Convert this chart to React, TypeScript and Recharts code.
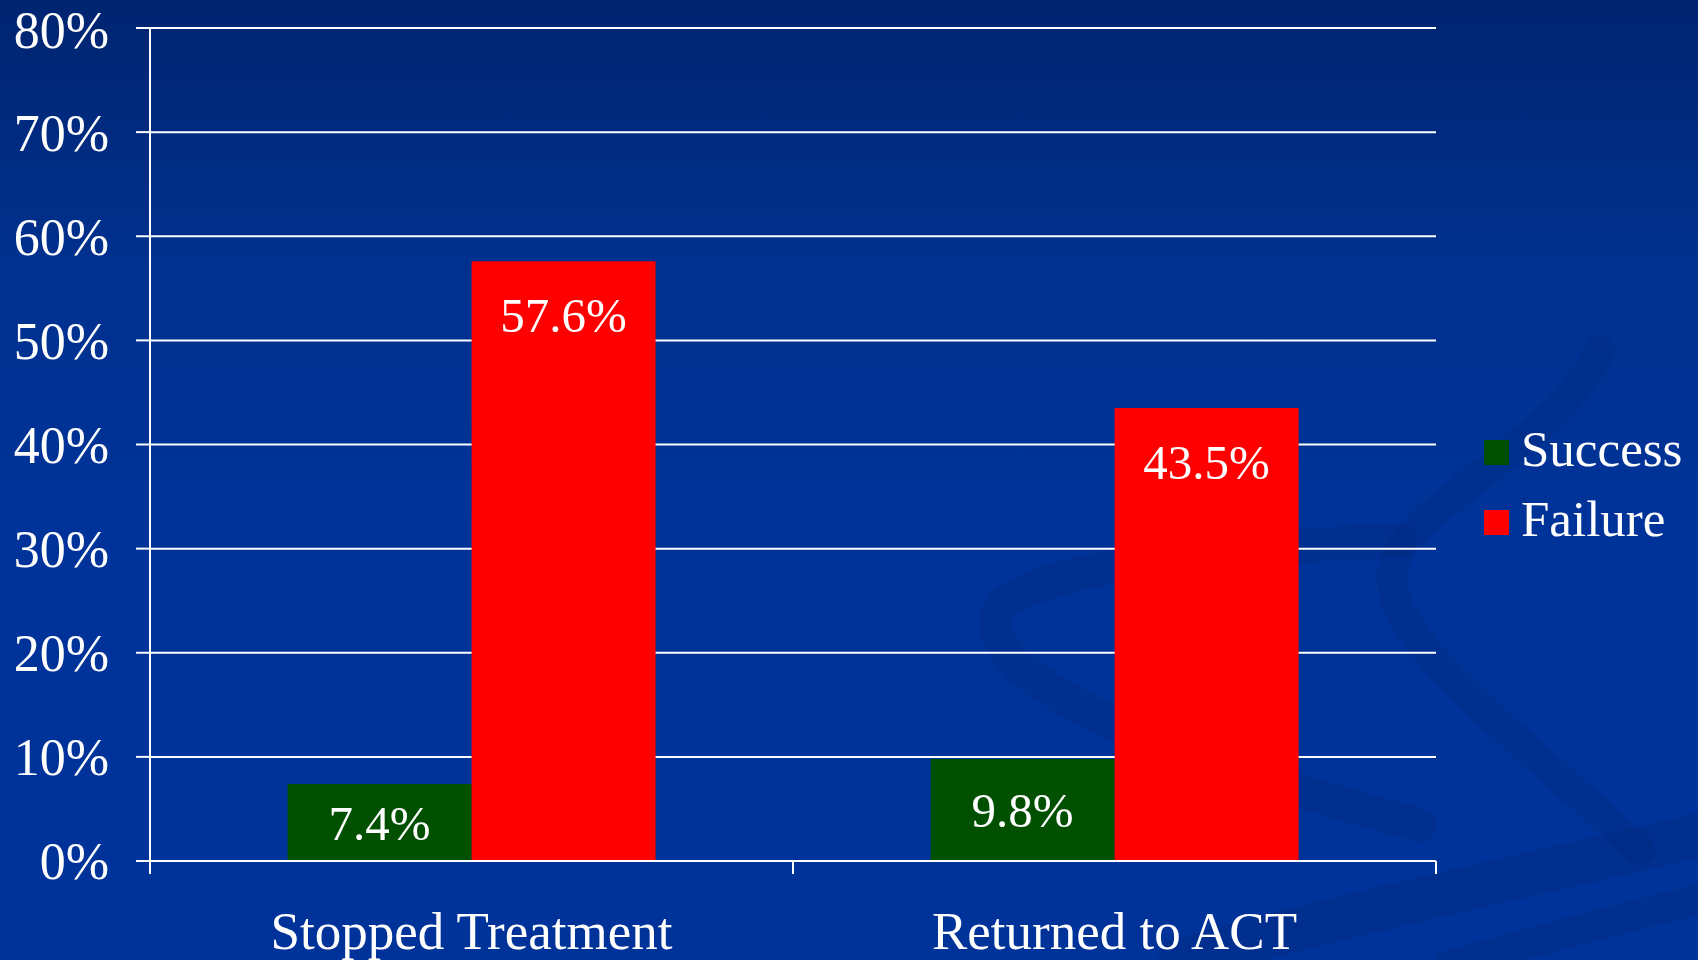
import React from "react";
import { BarChart, Bar, XAxis, YAxis, CartesianGrid, Legend, LabelList } from "recharts";

const categories = ["Stopped Treatment", "Returned to ACT"];
const successValues = [7.4, 9.8];
const failureValues = [57.6, 43.5];
const yTicks = [0, 10, 20, 30, 40, 50, 60, 70, 80];

const data = categories.map((name, i) => ({
    name,
    success: successValues[i],
    failure: failureValues[i],
}));

const FONT = '"Liberation Serif", "Times New Roman", serif';

const legendItems = [
    { label: "Success", color: "#005000" },
    { label: "Failure", color: "#ff0000" },
];

function ChartLegend() {
    return (
        <div style={{ fontFamily: FONT, color: "#fff", fontSize: 51 }}>
            {legendItems.map((item) => (
                <div key={item.label} style={{ display: "flex", alignItems: "center", height: 70 }}>
                    <span
                        style={{
                            display: "inline-block",
                            width: 25,
                            height: 25,
                            background: item.color,
                            marginRight: 12,
                            marginTop: 6,
                        }}
                    />
                    <span style={{ lineHeight: "70px" }}>{item.label}</span>
                </div>
            ))}
        </div>
    );
}

// category label plus tick marks on the band edges
function CategoryTick(props: any) {
    const { x, y, payload, index, visibleTicksCount } = props;
    const half = payload.offset || 0;
    const last = index === visibleTicksCount - 1;
    return (
        <g>
            <line x1={x - half} x2={x - half} y1={y} y2={y + 13} stroke="#ffffff" strokeWidth={2} />
            {last && <line x1={x + half} x2={x + half} y1={y} y2={y + 13} stroke="#ffffff" strokeWidth={2} />}
            <text
                x={x}
                y={y + 50}
                dy="0.71em"
                textAnchor="middle"
                fill="#ffffff"
                fontSize={53}
                fontFamily={FONT}
            >
                {payload.value}
            </text>
        </g>
    );
}

// faint background swirls of the slide template
function Swirls() {
    return (
        <svg width={1698} height={960} style={{ position: "absolute", left: 0, top: 0 }}>
            <g fill="none" stroke="#00287c" strokeOpacity={0.3} strokeLinecap="round">
                <path d="M 1400 540 C 1200 550 1000 570 996 620 C 990 700 1250 780 1420 825" strokeWidth={34} />
                <path d="M 1600 350 C 1560 440 1420 500 1395 560 C 1370 630 1500 720 1640 850" strokeWidth={30} />
                <path d="M 1180 960 C 1400 900 1600 860 1720 830" strokeWidth={44} />
                <path d="M 1450 965 C 1560 935 1650 910 1720 895" strokeWidth={30} />
            </g>
        </svg>
    );
}

export default function App() {
    return (
        <div
            style={{
                position: "absolute",
                left: 0,
                top: 0,
                width: 1698,
                height: 960,
                overflow: "hidden",
                background: "linear-gradient(to bottom, #002470 0%, #00318f 28%, #003399 55%, #003399 100%)",
            }}
        >
            <Swirls />
            <div style={{ position: "absolute", left: 0, top: 0 }}>
                <BarChart
                    width={1698}
                    height={960}
                    data={data}
                    margin={{ top: 28, right: 262, bottom: 0, left: 0 }}
                    barCategoryGap="21.4%"
                    barGap={0}
                >
                    <CartesianGrid vertical={false} stroke="#ffffff" strokeWidth={2} />
                    <XAxis
                        dataKey="name"
                        height={99}
                        stroke="#ffffff"
                        strokeWidth={2}
                        tickLine={false}
                        tickSize={0}
                        tickMargin={0}
                        tick={<CategoryTick />}
                        interval={0}
                    />
                    <YAxis
                        width={150}
                        domain={[0, 80]}
                        ticks={yTicks}
                        tickFormatter={(v) => `${v}%`}
                        tickSize={14}
                        tickMargin={27}
                        stroke="#ffffff"
                        strokeWidth={2}
                        tick={{ fill: "#ffffff", fontSize: 52, fontFamily: FONT }}
                    />
                    <Legend
                        layout="vertical"
                        align="center"
                        verticalAlign="middle"
                        content={() => <ChartLegend />}
                        wrapperStyle={{ left: 1484, top: 414, width: 214 }}
                    />
                    <Bar dataKey="success" name="Success" fill="#005000" isAnimationActive={false}>
                        <LabelList
                            dataKey="success"
                            position="center"
                            formatter={(v: number) => `${v}%`}
                            fill="#ffffff"
                            fontSize={49}
                            fontFamily={FONT}
                        />
                    </Bar>
                    <Bar dataKey="failure" name="Failure" fill="#ff0000" isAnimationActive={false}>
                        <LabelList
                            dataKey="failure"
                            position="insideTop"
                            offset={36}
                            formatter={(v: number) => `${v}%`}
                            fill="#ffffff"
                            fontSize={49}
                            fontFamily={FONT}
                        />
                    </Bar>
                </BarChart>
            </div>
        </div>
    );
}
